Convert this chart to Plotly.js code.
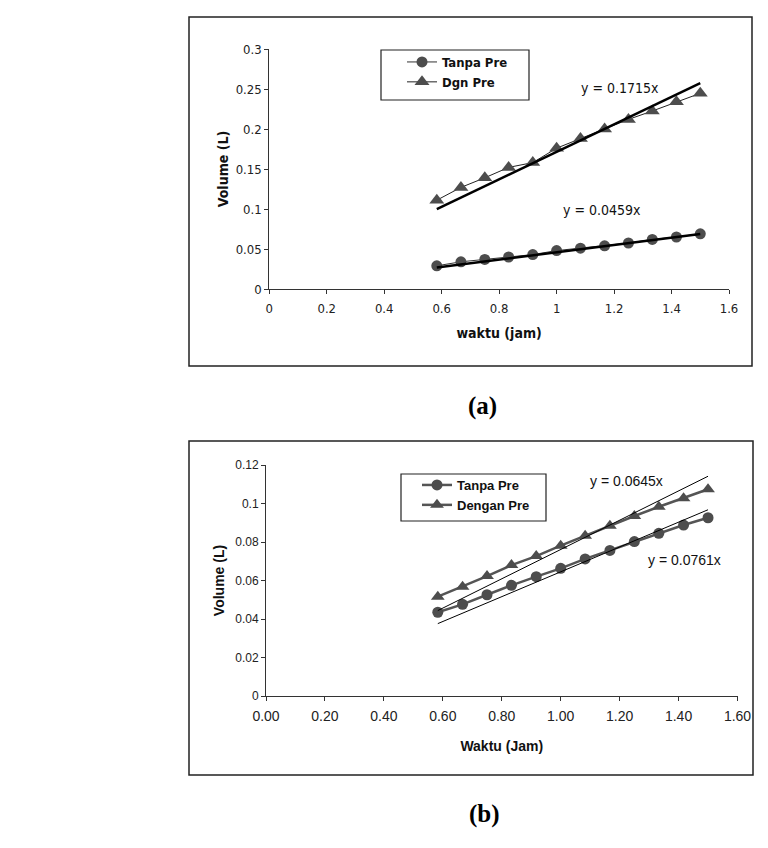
<!DOCTYPE html>
<html>
<head>
<meta charset="utf-8">
<script src="https://cdn.plot.ly/plotly-3.0.1.min.js"></script>
<style>
  html, body { margin: 0; padding: 0; background: #fff; }
  #chart { width: 768px; height: 848px; }
</style>
</head>
<body>
<div id="chart"></div>
<script>
// Sampling times (hours), one reading every 5 minutes from 35 to 90 minutes
const waktuA = [0.583, 0.667, 0.75, 0.833, 0.917, 1.0, 1.083, 1.167, 1.25, 1.333, 1.417, 1.5];
const waktuB = [0.583, 0.667, 0.75, 0.833, 0.917, 1.0, 1.083, 1.167, 1.25, 1.333, 1.417, 1.5];

// (a) collected volume (L)
const tanpaPreA = [0.029, 0.034, 0.037, 0.040, 0.043, 0.048, 0.051, 0.054, 0.0575, 0.062, 0.065, 0.069];
const dgnPreA   = [0.111, 0.127, 0.139, 0.152, 0.158, 0.176, 0.188, 0.200, 0.212, 0.2225, 0.234, 0.2446];

// (b) collected volume (L)
const tanpaPreB  = [0.0435, 0.0476, 0.0526, 0.0575, 0.062, 0.0663, 0.0712, 0.0756, 0.0802, 0.0845, 0.0888, 0.0926];
const denganPreB = [0.0516, 0.0568, 0.0623, 0.068, 0.0727, 0.0781, 0.0833, 0.0885, 0.0935, 0.0983, 0.1027, 0.1074];

// Linear trendline slopes (through origin)
const slopeTanpaA = 0.0459;
const slopeDgnA = 0.1715;
const slopeLowB = 0.0645;
const slopeHighB = 0.0761;

// Labels
const legendNamesA = ['Tanpa Pre', 'Dgn Pre'];
const legendNamesB = ['Tanpa Pre', 'Dengan Pre'];
const ticksA_x = [0, 0.2, 0.4, 0.6, 0.8, 1, 1.2, 1.4, 1.6];
const ticksA_y = [0, 0.05, 0.1, 0.15, 0.2, 0.25, 0.3];
const ticksB_x = [0, 0.2, 0.4, 0.6, 0.8, 1.0, 1.2, 1.4, 1.6];
const ticksB_y = [0, 0.02, 0.04, 0.06, 0.08, 0.1, 0.12];

const W = 768, H = 848;
const px = x => x / W;
const py = y => 1 - y / H;

const fontA = "'DejaVu Sans Condensed', 'DejaVu Sans', sans-serif";
const fontB = "'Liberation Sans', Arial, sans-serif";
const fontCap = "'Liberation Serif', 'Times New Roman', serif";
const markColor = '#4d4d4d';

function trend(xs, k) {
  const x0 = xs[0], x1 = xs[xs.length - 1];
  return { x: [x0, x1], y: [k * x0, k * x1] };
}

const tA1 = trend(waktuA, slopeTanpaA);
const tA2 = trend(waktuA, slopeDgnA);
const tB1 = trend(waktuB, slopeLowB);
const tB2 = trend(waktuB, slopeHighB);

const traces = [
  // (a)
  { x: waktuA, y: tanpaPreA, name: legendNamesA[0], type: 'scatter', mode: 'lines+markers',
    xaxis: 'x', yaxis: 'y', legend: 'legend', legendgroup: 'a1',
    line: { color: '#333', width: 1 }, marker: { symbol: 'circle', size: 11, color: markColor } },
  { x: waktuA, y: dgnPreA, name: legendNamesA[1], type: 'scatter', mode: 'lines+markers',
    xaxis: 'x', yaxis: 'y', legend: 'legend', legendgroup: 'a2',
    line: { color: '#222', width: 1 }, marker: { symbol: 'triangle-up', size: 13, color: markColor } },
  { x: tA1.x, y: tA1.y, type: 'scatter', mode: 'lines', showlegend: false, hoverinfo: 'skip',
    xaxis: 'x', yaxis: 'y', line: { color: '#000', width: 2.5 } },
  { x: tA2.x, y: tA2.y, type: 'scatter', mode: 'lines', showlegend: false, hoverinfo: 'skip',
    xaxis: 'x', yaxis: 'y', line: { color: '#000', width: 2.5 } },
  // (b)
  { x: waktuB, y: tanpaPreB, name: legendNamesB[0], type: 'scatter', mode: 'lines+markers',
    xaxis: 'x2', yaxis: 'y2', legend: 'legend2', legendgroup: 'b1',
    line: { color: '#555', width: 2.5 }, marker: { symbol: 'circle', size: 11, color: markColor } },
  { x: waktuB, y: denganPreB, name: legendNamesB[1], type: 'scatter', mode: 'lines+markers',
    xaxis: 'x2', yaxis: 'y2', legend: 'legend2', legendgroup: 'b2',
    line: { color: '#555', width: 2.5 }, marker: { symbol: 'triangle-up', size: 12, color: markColor } },
  { x: tB1.x, y: tB1.y, type: 'scatter', mode: 'lines', showlegend: false, hoverinfo: 'skip',
    xaxis: 'x2', yaxis: 'y2', line: { color: '#000', width: 1 } },
  { x: tB2.x, y: tB2.y, type: 'scatter', mode: 'lines', showlegend: false, hoverinfo: 'skip',
    xaxis: 'x2', yaxis: 'y2', line: { color: '#000', width: 1 } }
];

const axisCommon = {
  showgrid: false, zeroline: false, showline: true, linecolor: '#333', linewidth: 1,
  ticks: 'outside', ticklen: 4, tickcolor: '#333', tickwidth: 1, fixedrange: true
};

const layout = {
  width: W, height: H,
  margin: { l: 0, r: 0, t: 0, b: 0 },
  paper_bgcolor: '#fff', plot_bgcolor: 'rgba(0,0,0,0)',
  showlegend: true,
  xaxis: Object.assign({}, axisCommon, {
    domain: [px(269.3), px(729)], range: [0, 1.6], anchor: 'y',
    tickvals: ticksA_x, ticktext: ticksA_x.map(String), ticklabelstandoff: 3,
    tickfont: { family: fontA, size: 13, color: '#222' },
    title: { text: 'waktu (jam)', standoff: 13, font: { family: fontA, size: 14, weight: 700, color: '#111' } }
  }),
  yaxis: Object.assign({}, axisCommon, {
    domain: [py(289), py(49)], range: [0, 0.3], anchor: 'x',
    tickvals: ticksA_y, ticktext: ticksA_y.map(String),
    tickfont: { family: fontA, size: 13, color: '#222' },
    title: { text: 'Volume (L)', standoff: 3, font: { family: fontA, size: 14, weight: 700, color: '#111' } }
  }),
  xaxis2: Object.assign({}, axisCommon, {
    domain: [px(266), px(737.5)], range: [0, 1.6], anchor: 'y2',
    tickvals: ticksB_x, ticktext: ticksB_x.map(v => v.toFixed(2)), ticklabelstandoff: 3,
    tickfont: { family: fontB, size: 14, color: '#222' },
    title: { text: 'Waktu (Jam)', standoff: 18, font: { family: fontB, size: 14, weight: 700, color: '#111' } }
  }),
  yaxis2: Object.assign({}, axisCommon, {
    domain: [py(696), py(465)], range: [0, 0.12], anchor: 'x2',
    tickvals: ticksB_y, ticktext: ticksB_y.map(String),
    tickfont: { family: fontB, size: 12, color: '#222' },
    title: { text: 'Volume (L)', standoff: 7, font: { family: fontB, size: 14, weight: 700, color: '#111' } }
  }),
  legend: {
    x: px(402), y: py(47), xanchor: 'left', yanchor: 'top',
    bgcolor: 'rgba(0,0,0,0)', borderwidth: 0,
    font: { family: fontA, size: 13, weight: 700, color: '#111' },
    tracegroupgap: 7, traceorder: 'normal'
  },
  legend2: {
    x: px(417), y: py(470), xanchor: 'left', yanchor: 'top',
    bgcolor: 'rgba(0,0,0,0)', borderwidth: 0,
    font: { family: fontB, size: 13, weight: 700, color: '#111' },
    tracegroupgap: 6, traceorder: 'normal'
  },
  shapes: [
    // chart-area frames
    { type: 'rect', xref: 'paper', yref: 'paper', x0: px(189), x1: px(752), y0: py(366), y1: py(17),
      line: { color: '#222', width: 1.5 }, layer: 'below' },
    { type: 'rect', xref: 'paper', yref: 'paper', x0: px(189), x1: px(753), y0: py(775), y1: py(441),
      line: { color: '#222', width: 1.5 }, layer: 'below' },
    // legend boxes
    { type: 'rect', xref: 'paper', yref: 'paper', x0: px(381), x1: px(529), y0: py(100), y1: py(50),
      line: { color: '#222', width: 1.2 }, fillcolor: '#fff', layer: 'below' },
    { type: 'rect', xref: 'paper', yref: 'paper', x0: px(401), x1: px(546), y0: py(521), y1: py(474),
      line: { color: '#222', width: 1.2 }, fillcolor: '#fff', layer: 'below' }
  ],
  annotations: [
    { text: 'y = 0.1715x', xref: 'paper', yref: 'paper', x: px(620), y: py(87.5), xanchor: 'center', yanchor: 'middle',
      showarrow: false, font: { family: fontA, size: 14, color: '#111' } },
    { text: 'y = 0.0459x', xref: 'paper', yref: 'paper', x: px(601.5), y: py(210), xanchor: 'center', yanchor: 'middle',
      showarrow: false, font: { family: fontA, size: 14, color: '#111' } },
    { text: 'y = 0.0645x', xref: 'paper', yref: 'paper', x: px(626), y: py(481), xanchor: 'center', yanchor: 'middle',
      showarrow: false, font: { family: fontB, size: 14, color: '#111' } },
    { text: 'y = 0.0761x', xref: 'paper', yref: 'paper', x: px(684), y: py(560), xanchor: 'center', yanchor: 'middle',
      showarrow: false, font: { family: fontB, size: 14, color: '#111' } },
    { text: '(a)', xref: 'paper', yref: 'paper', x: px(482), y: py(406), xanchor: 'center', yanchor: 'middle',
      showarrow: false, font: { family: fontCap, size: 25, weight: 700, color: '#000' } },
    { text: '(b)', xref: 'paper', yref: 'paper', x: px(484), y: py(814), xanchor: 'center', yanchor: 'middle',
      showarrow: false, font: { family: fontCap, size: 25, weight: 700, color: '#000' } }
  ]
};

Plotly.newPlot('chart', traces, layout, { staticPlot: true, displayModeBar: false });
</script>
</body>
</html>
